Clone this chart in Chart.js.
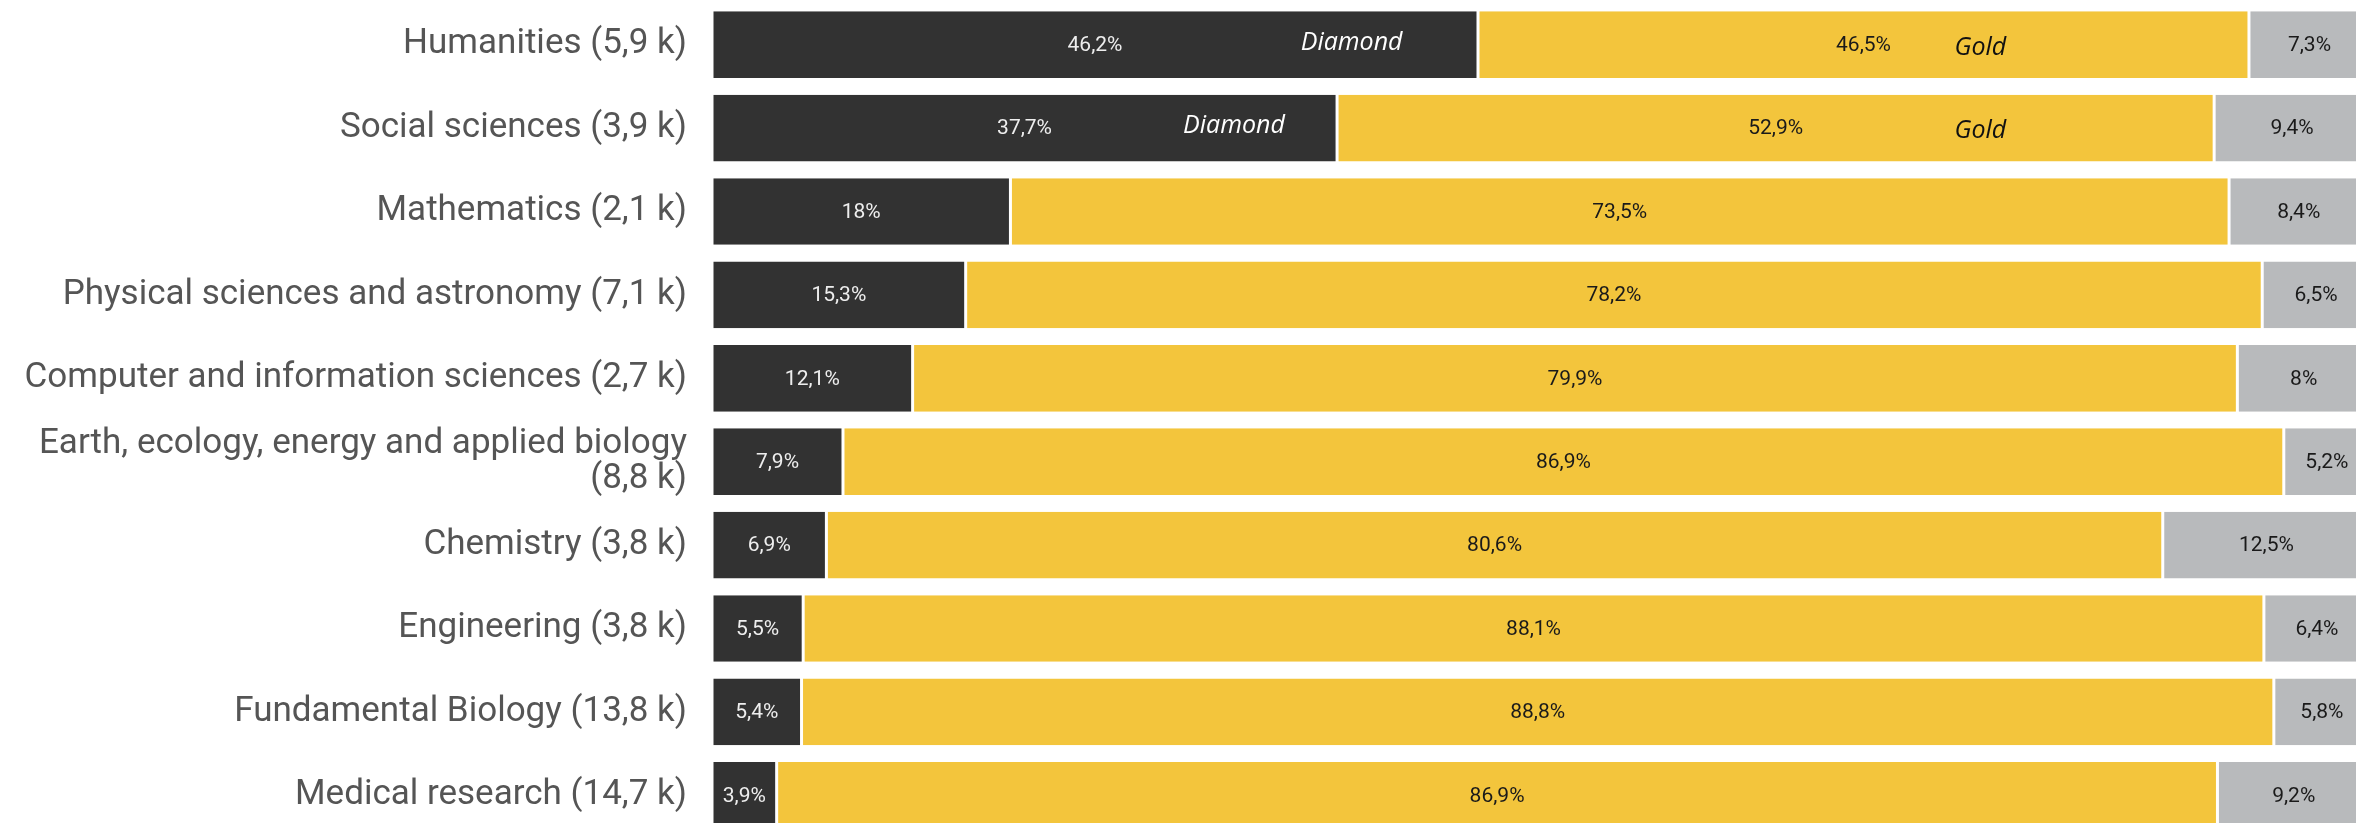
<!DOCTYPE html>
<html>
<head>
<meta charset="utf-8">
<title>Open access by discipline</title>
<script src="https://cdn.jsdelivr.net/npm/chart.js@4"></script>
<style>
  html, body { margin: 0; padding: 0; background: #fff; overflow: hidden; }
  #wrap { width: 2370px; height: 837px; position: relative; }
</style>
</head>
<body>
<div id="wrap"><canvas id="myChart"></canvas></div>
<script>
// categories (number of articles in thousands)
const labels = [
  'Humanities (5,9 k)',
  'Social sciences (3,9 k)',
  'Mathematics (2,1 k)',
  'Physical sciences and astronomy (7,1 k)',
  'Computer and information sciences (2,7 k)',
  ['Earth, ecology, energy and applied biology', '(8,8 k)'],
  'Chemistry (3,8 k)',
  'Engineering (3,8 k)',
  'Fundamental Biology (13,8 k)',
  'Medical research (14,7 k)'
];

// share of each access type, %
const diamond = [46.2, 37.7, 18, 15.3, 12.1, 7.9, 6.9, 5.5, 5.4, 3.9];
const gold    = [46.5, 52.9, 73.5, 78.2, 79.9, 86.9, 80.6, 88.1, 88.8, 86.9];
const other   = [7.3, 9.4, 8.4, 6.5, 8, 5.2, 12.5, 6.4, 5.8, 9.2];

// rows that carry the series name inside the bar
const namedRows = [0, 1];

const fmt = v => String(v).replace('.', ',') + '%';

// value labels centred in every segment + series names on the first rows
const segmentLabels = {
  id: 'segmentLabels',
  afterDatasetsDraw(chart) {
    const ctx = chart.ctx;
    const xs = chart.scales.x;
    ctx.save();
    ctx.textAlign = 'center';
    ctx.textBaseline = 'middle';
    ctx.font = '21px Roboto';
    chart.data.datasets.forEach((ds, i) => {
      const meta = chart.getDatasetMeta(i);
      meta.data.forEach((bar, j) => {
        const x = (bar.base + bar.x) / 2;
        ctx.fillStyle = ds.labelColor;
        ctx.fillText(fmt(ds.data[j]), x, bar.y + 1);
      });
    });
    // series names
    ctx.font = 'italic 25px "Open Sans"';
    namedRows.forEach(j => {
      const dBar = chart.getDatasetMeta(0).data[j];
      const dx = xs.getPixelForValue(diamond[j] * 0.835);
      ctx.fillStyle = '#ffffff';
      ctx.fillText('Diamond', dx, dBar.y - 2);
      const gx = xs.getPixelForValue(76.5);
      ctx.fillStyle = '#111111';
      ctx.fillText('Gold', gx, dBar.y + 3);
    });
    ctx.restore();
  }
};

const seg = {
  borderColor: '#ffffff',
  borderWidth: { left: 1.5, right: 1.5, top: 0, bottom: 0 },
  borderSkipped: false,
  barPercentage: 0.8,
  categoryPercentage: 1.0
};

const data = {
  labels: labels,
  datasets: [
    Object.assign({ label: 'Diamond', data: diamond, backgroundColor: '#323232', labelColor: '#eeeeee' }, seg),
    Object.assign({ label: 'Gold', data: gold, backgroundColor: '#f3c53c', labelColor: '#1a1a1a' }, seg),
    Object.assign({ label: 'Other', data: other, backgroundColor: '#b8babc', labelColor: '#1a1a1a' }, seg)
  ]
};

const config = {
  type: 'bar',
  data: data,
  options: {
    indexAxis: 'y',
    responsive: true,
    maintainAspectRatio: false,
    animation: false,
    layout: { padding: { top: 3, right: 0, bottom: 0, left: 0 } },
    plugins: {
      legend: { display: false },
      tooltip: { enabled: false }
    },
    scales: {
      x: {
        stacked: true,
        min: 0,
        max: 100,
        display: false
      },
      y: {
        stacked: true,
        grid: { display: false, drawTicks: true, tickLength: 25 },
        border: { display: false },
        afterFit(scale) {
          scale.width = 712;
          scale.paddingTop = 0;
          scale.paddingBottom = 0;
        },
        ticks: {
          padding: 0,
          color: '#555555',
          font: { family: 'Roboto', size: 35, lineHeight: 1.0 }
        }
      }
    }
  },
  plugins: [segmentLabels]
};

const myChart = new Chart(document.getElementById('myChart'), config);
</script>
</body>
</html>
